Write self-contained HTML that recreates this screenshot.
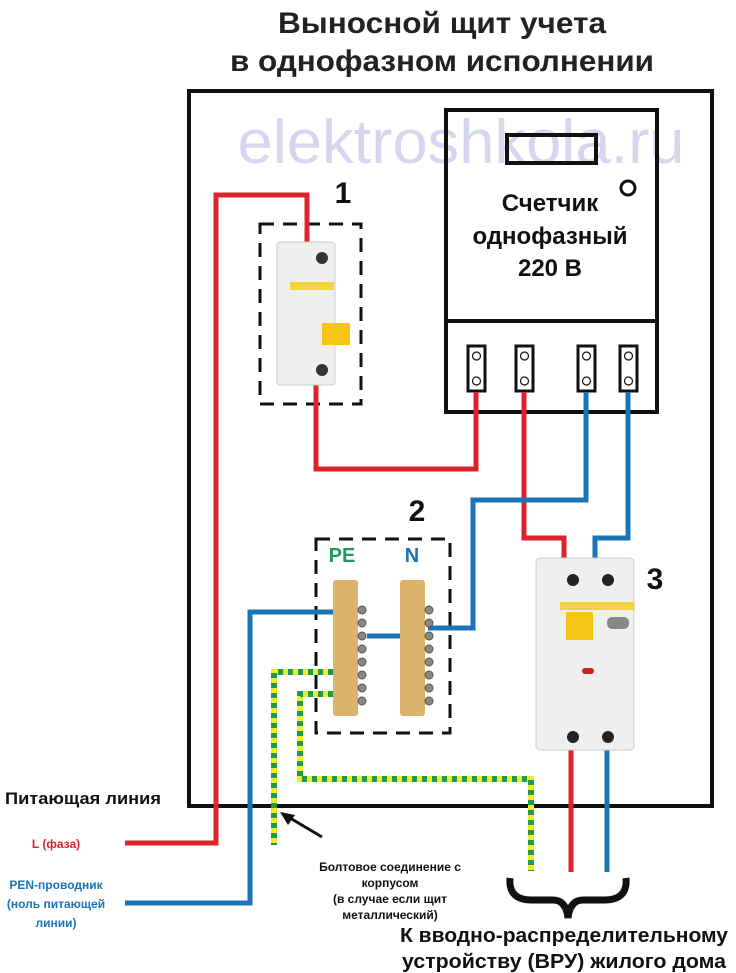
<!DOCTYPE html>
<html><head><meta charset="utf-8"><style>
html,body{margin:0;padding:0;background:#fff;}
svg{display:block;}
text{font-family:"Liberation Sans",sans-serif;}
</style></head><body>
<svg width="736" height="973" viewBox="0 0 736 973" xmlns="http://www.w3.org/2000/svg">
<text x="442" y="33" font-size="30" font-weight="bold" text-anchor="middle" fill="#222" textLength="328" lengthAdjust="spacingAndGlyphs">Выносной щит учета</text>
<text x="442" y="71" font-size="30" font-weight="bold" text-anchor="middle" fill="#222" textLength="424" lengthAdjust="spacingAndGlyphs">в однофазном исполнении</text>
<rect x="189" y="91" width="523" height="715" fill="none" stroke="#111" stroke-width="4"/>
<text x="461" y="163" font-size="62" text-anchor="middle" fill="#d6d6ee" textLength="447" lengthAdjust="spacingAndGlyphs">elektroshkola.ru</text>
<!-- meter -->
<rect x="446" y="110" width="211" height="302" fill="none" stroke="#111" stroke-width="4"/>
<line x1="446" y1="321" x2="657" y2="321" stroke="#111" stroke-width="4"/>
<rect x="507" y="135" width="89" height="28" fill="none" stroke="#111" stroke-width="4"/>
<circle cx="628" cy="188" r="7" fill="none" stroke="#111" stroke-width="3"/>
<text x="550" y="211" font-size="24" font-weight="bold" text-anchor="middle" fill="#111">Счетчик</text>
<text x="550" y="244" font-size="24" font-weight="bold" text-anchor="middle" fill="#111">однофазный</text>
<text x="550" y="276" font-size="24" font-weight="bold" text-anchor="middle" fill="#111">220 В</text>
<g fill="#fff" stroke="#111" stroke-width="3">
<rect x="468" y="346" width="17" height="45"/><rect x="516" y="346" width="17" height="45"/>
<rect x="578" y="346" width="17" height="45"/><rect x="620" y="346" width="17" height="45"/>
</g>
<g fill="none" stroke="#111" stroke-width="1.2">
<circle cx="476.5" cy="356" r="4"/><circle cx="476.5" cy="381" r="4"/>
<circle cx="524.5" cy="356" r="4"/><circle cx="524.5" cy="381" r="4"/>
<circle cx="586.5" cy="356" r="4"/><circle cx="586.5" cy="381" r="4"/>
<circle cx="628.5" cy="356" r="4"/><circle cx="628.5" cy="381" r="4"/>
</g>
<!-- numbers -->
<text x="343" y="203" font-size="30" font-weight="bold" text-anchor="middle" fill="#111">1</text>
<text x="417" y="521" font-size="30" font-weight="bold" text-anchor="middle" fill="#111">2</text>
<text x="655" y="589" font-size="30" font-weight="bold" text-anchor="middle" fill="#111">3</text>
<!-- dashed boxes -->
<rect x="260" y="224" width="101" height="180" fill="none" stroke="#111" stroke-width="3" stroke-dasharray="14,9"/>
<rect x="316" y="539" width="134" height="194" fill="none" stroke="#111" stroke-width="3" stroke-dasharray="14,9"/>
<text x="342" y="562" font-size="20" font-weight="bold" text-anchor="middle" fill="#1e9a5e">PE</text>
<text x="412" y="562" font-size="20" font-weight="bold" text-anchor="middle" fill="#1b74b5">N</text>
<!-- wires red -->
<g fill="none" stroke="#e0232a" stroke-width="5">
<polyline points="125,843 216,843 216,195 307,195 307,242"/>
<polyline points="316,384 316,469 476,469 476,392"/>
<polyline points="524,392 524,538 564,538 564,560"/>
<line x1="571" y1="748" x2="571" y2="872"/>
</g>
<!-- wires blue -->
<g fill="none" stroke="#1b74b5" stroke-width="5">
<polyline points="125,903 250,903 250,612 333,612"/>
<polyline points="586,392 586,500 473,500 473,628 428,628"/>
<polyline points="628,392 628,538 595,538 595,560"/>
<line x1="367" y1="636" x2="410" y2="636"/>
<line x1="607" y1="748" x2="607" y2="872"/>
</g>
<!-- PE yellow-green -->
<g fill="none" stroke-width="6">
<polyline points="343,672 274,672 274,845" stroke="#f0ec2a"/>
<polyline points="343,672 274,672 274,845" stroke="#1e9a4e" stroke-dasharray="5,5"/>
<polyline points="343,694 300,694 300,779 531,779 531,871" stroke="#f0ec2a"/>
<polyline points="343,694 300,694 300,779 531,779 531,871" stroke="#1e9a4e" stroke-dasharray="5,5"/>
</g>
<!-- busbars -->
<rect x="333" y="580" width="25" height="136" rx="3" fill="#d9b46a"/>
<rect x="400" y="580" width="25" height="136" rx="3" fill="#d9b46a"/>
<g fill="#888" stroke="#555" stroke-width="1">
<circle cx="362" cy="610" r="4"/><circle cx="362" cy="623" r="4"/><circle cx="362" cy="636" r="4"/><circle cx="362" cy="649" r="4"/><circle cx="362" cy="662" r="4"/><circle cx="362" cy="675" r="4"/><circle cx="362" cy="688" r="4"/><circle cx="362" cy="701" r="4"/>
<circle cx="429" cy="610" r="4"/><circle cx="429" cy="623" r="4"/><circle cx="429" cy="636" r="4"/><circle cx="429" cy="649" r="4"/><circle cx="429" cy="662" r="4"/><circle cx="429" cy="675" r="4"/><circle cx="429" cy="688" r="4"/><circle cx="429" cy="701" r="4"/>
</g>
<!-- breaker 1 -->
<rect x="277" y="242" width="58" height="143" rx="3" fill="#eeeeee" stroke="#ccc"/>
<rect x="290" y="282" width="44" height="8" fill="#f1d33a"/>
<rect x="322" y="323" width="28" height="22" fill="#f5c518"/>
<circle cx="322" cy="258" r="6" fill="#333"/>
<circle cx="322" cy="370" r="6" fill="#333"/>
<!-- RCD -->
<rect x="536" y="558" width="98" height="192" rx="4" fill="#efefef" stroke="#ccc"/>
<rect x="560" y="602" width="74" height="8" fill="#f1d33a"/>
<rect x="566" y="612" width="27" height="28" fill="#f5c518"/>
<rect x="607" y="617" width="22" height="12" rx="5" fill="#888"/>
<circle cx="573" cy="580" r="6" fill="#222"/><circle cx="608" cy="580" r="6" fill="#222"/>
<circle cx="573" cy="737" r="6" fill="#222"/><circle cx="608" cy="737" r="6" fill="#222"/>
<rect x="582" y="668" width="12" height="6" rx="3" fill="#c22"/>
<!-- brace -->
<path d="M510,878 Q508,900 532,900 L553,900 Q566,900 568,918 Q570,900 583,900 L604,900 Q628,900 626,878" fill="none" stroke="#111" stroke-width="7"/>
<!-- labels -->
<text x="5" y="804" font-size="17" font-weight="bold" fill="#111" textLength="156" lengthAdjust="spacingAndGlyphs">Питающая линия</text>
<text x="56" y="848" font-size="12" font-weight="bold" text-anchor="middle" fill="#e0232a">L (фаза)</text>
<text x="56" y="889" font-size="12" font-weight="bold" text-anchor="middle" fill="#1b74b5">PEN-проводник</text>
<text x="56" y="908" font-size="12" font-weight="bold" text-anchor="middle" fill="#1b74b5">(ноль питающей</text>
<text x="56" y="927" font-size="12" font-weight="bold" text-anchor="middle" fill="#1b74b5">линии)</text>
<line x1="322" y1="837" x2="285" y2="815" stroke="#111" stroke-width="3"/>
<polygon points="280,812 295,815 288,825" fill="#111"/>
<text x="390" y="871" font-size="12" font-weight="bold" text-anchor="middle" fill="#111">Болтовое соединение с</text>
<text x="390" y="887" font-size="12" font-weight="bold" text-anchor="middle" fill="#111">корпусом</text>
<text x="390" y="903" font-size="12" font-weight="bold" text-anchor="middle" fill="#111">(в случае если щит</text>
<text x="390" y="919" font-size="12" font-weight="bold" text-anchor="middle" fill="#111">металлический)</text>
<text x="564" y="942" font-size="20" font-weight="bold" text-anchor="middle" fill="#111" textLength="328" lengthAdjust="spacingAndGlyphs">К вводно-распределительному</text>
<text x="564" y="968" font-size="20" font-weight="bold" text-anchor="middle" fill="#111" textLength="324" lengthAdjust="spacingAndGlyphs">устройству (ВРУ) жилого дома</text>
</svg>
</body></html>
